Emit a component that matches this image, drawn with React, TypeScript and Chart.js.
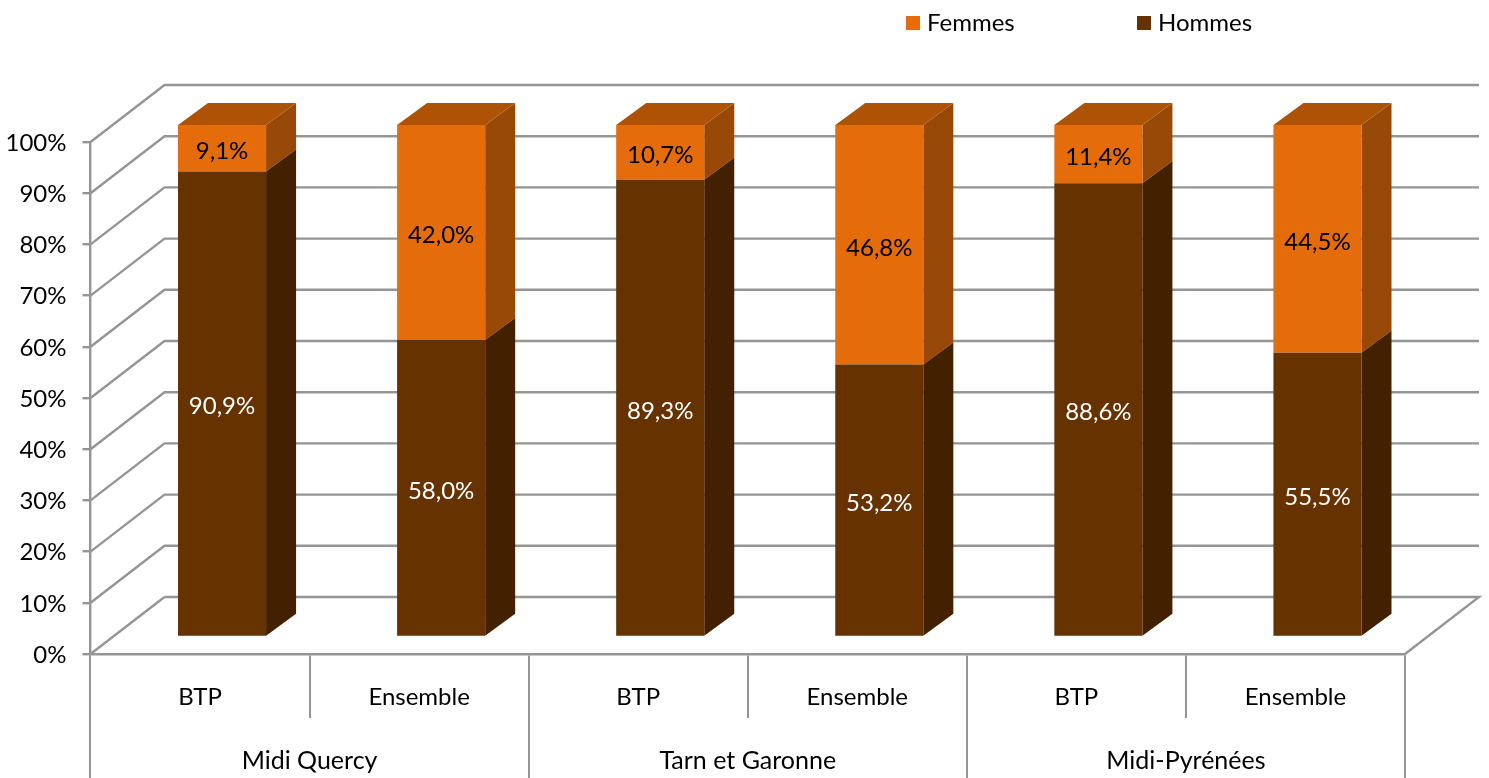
import React, { useEffect, useRef } from "react";
import { Chart, registerables } from "chart.js";

Chart.register(...registerables);

const subCategories = ["BTP", "Ensemble", "BTP", "Ensemble", "BTP", "Ensemble"];
const groups = ["Midi Quercy", "Tarn et Garonne", "Midi-Pyrénées"];
const hommes = [90.9, 58.0, 89.3, 53.2, 88.6, 55.5];
const femmes = [9.1, 42.0, 10.7, 46.8, 11.4, 44.5];
const yTicks = [0, 10, 20, 30, 40, 50, 60, 70, 80, 90, 100];

const FONT = "Lato, 'Open Sans', sans-serif";
const FONT_SIZE = 24;
const GRID = "#959595";
const GRID_W = 2.4;
const FRONT = { Hommes: "#663200", Femmes: "#E46C0A" } as Record<string, string>;
const SIDE = { Hommes: "#432000", Femmes: "#984807" } as Record<string, string>;
const TOP_FACE = "#AE5306";
const LABEL_COLOR = { Hommes: "#ffffff", Femmes: "#000000" } as Record<string, string>;

const WALL_DX = 74;
const WALL_DY = -57;
const BAR_SHIFT_X = 22;
const BAR_SHIFT_Y = -17;
const BAR_DX = 30;
const BAR_DY = -22;

const fmt = (v: number) => v.toFixed(1).replace(".", ",") + "%";

const poly = (ctx: CanvasRenderingContext2D, color: string, pts: number[][]) => {
  ctx.fillStyle = color;
  ctx.beginPath();
  pts.forEach(([x, y], i) => (i ? ctx.lineTo(x, y) : ctx.moveTo(x, y)));
  ctx.closePath();
  ctx.fill();
};

const walls = {
  id: "walls",
  beforeDatasetsDraw(chart: any) {
    const { ctx, chartArea: a, scales } = chart;
    ctx.save();
    ctx.strokeStyle = GRID;
    ctx.lineWidth = GRID_W;
    yTicks.forEach((t) => {
      const y = scales.y.getPixelForValue(t);
      ctx.beginPath();
      ctx.moveTo(a.left, y);
      ctx.lineTo(a.left + WALL_DX, y + WALL_DY);
      if (t > 0) ctx.lineTo(a.right + WALL_DX, y + WALL_DY);
      ctx.stroke();
    });
    const by = scales.y.getPixelForValue(0);
    ctx.beginPath();
    ctx.moveTo(a.left + WALL_DX, by + WALL_DY);
    ctx.lineTo(a.right + WALL_DX, by + WALL_DY);
    ctx.lineTo(a.right, by);
    ctx.stroke();
    ctx.restore();
  },
};

const bars3d = {
  id: "bars3d",
  beforeDatasetDraw(chart: any, args: any) {
    const { ctx } = chart;
    const name = chart.data.datasets[args.index].label;
    const isTop = args.index === chart.data.datasets.length - 1;
    ctx.save();
    ctx.translate(BAR_SHIFT_X, BAR_SHIFT_Y);
    args.meta.data.forEach((bar: any) => {
      const { x, y, base, width } = bar.getProps(["x", "y", "base", "width"], true);
      const r = x + width / 2;
      const l = x - width / 2;
      poly(ctx, SIDE[name], [
        [r, y],
        [r + BAR_DX, y + BAR_DY],
        [r + BAR_DX, base + BAR_DY],
        [r, base],
      ]);
      if (isTop) {
        poly(ctx, TOP_FACE, [
          [l, y],
          [l + BAR_DX, y + BAR_DY],
          [r + BAR_DX, y + BAR_DY],
          [r, y],
        ]);
      }
    });
  },
  afterDatasetDraw(chart: any) {
    chart.ctx.restore();
  },
  afterDatasetsDraw(chart: any) {
    const { ctx } = chart;
    ctx.save();
    ctx.font = `${FONT_SIZE}px ${FONT}`;
    ctx.textAlign = "center";
    ctx.textBaseline = "middle";
    chart.data.datasets.forEach((ds: any, i: number) => {
      ctx.fillStyle = LABEL_COLOR[ds.label];
      chart.getDatasetMeta(i).data.forEach((bar: any, j: number) => {
        const { x, y, base } = bar.getProps(["x", "y", "base"], true);
        ctx.fillText(fmt(ds.data[j]), x + BAR_SHIFT_X, (y + base) / 2 + BAR_SHIFT_Y + 3);
      });
    });
    ctx.restore();
  },
};

const topLegend = {
  id: "topLegend",
  afterDraw(chart: any) {
    const { ctx } = chart;
    const slots: Record<string, number> = { Femmes: 906, Hommes: 1137 };
    ctx.save();
    ctx.font = `${FONT_SIZE}px ${FONT}`;
    ctx.textAlign = "left";
    ctx.textBaseline = "middle";
    chart.data.datasets.forEach((ds: any) => {
      const x = slots[ds.label];
      ctx.fillStyle = FRONT[ds.label];
      ctx.fillRect(x, 16, 14, 14);
      ctx.fillStyle = "#000000";
      ctx.fillText(ds.label, x + 21, 23);
    });
    ctx.restore();
  },
};

export default function App() {
  const ref = useRef<HTMLCanvasElement>(null);
  useEffect(() => {
    const chart = new Chart(ref.current as HTMLCanvasElement, {
      type: "bar",
      data: {
        labels: subCategories,
        datasets: [
          { label: "Hommes", data: hommes, backgroundColor: FRONT.Hommes, stack: "s", xAxisID: "x" },
          { label: "Femmes", data: femmes, backgroundColor: FRONT.Femmes, stack: "s", xAxisID: "x" },
        ],
      },
      options: {
        animation: false,
        responsive: false,
        maintainAspectRatio: false,
        barPercentage: 0.402,
        categoryPercentage: 1,
        layout: { padding: { top: 142, right: 84, bottom: 0, left: 0 } },
        font: { family: FONT, size: FONT_SIZE },
        plugins: { legend: { display: false }, tooltip: { enabled: false }, title: { display: false } },
        scales: {
          y: {
            stacked: true,
            min: 0,
            max: 100,
            afterFit: (s: any) => {
              s.width = 90.5;
            },
            afterBuildTicks: (s: any) => {
              s.ticks = yTicks.map((value) => ({ value }));
            },
            border: { display: true, color: GRID, width: GRID_W },
            grid: { drawOnChartArea: false, drawTicks: true, tickLength: 8, color: GRID, lineWidth: GRID_W },
            ticks: {
              color: "#000000",
              padding: 16,
              labelOffset: 1,
              font: { family: FONT, size: FONT_SIZE },
              callback: (v: any) => `${v}%`,
            },
          },
          x: {
            stacked: true,
            position: "bottom",
            afterFit: (s: any) => {
              s.height = 64;
            },
            border: { display: true, color: GRID, width: GRID_W },
            grid: { drawOnChartArea: false, offset: true, tickLength: 64, color: GRID, lineWidth: 2 },
            ticks: {
              color: "#000000",
              padding: -35,
              maxRotation: 0,
              autoSkip: false,
              font: { family: FONT, size: FONT_SIZE },
            },
          },
          x2: {
            type: "category",
            labels: groups,
            position: "bottom",
            afterFit: (s: any) => {
              s.height = 60;
            },
            border: { display: false },
            grid: { drawOnChartArea: false, offset: true, tickLength: 60, color: GRID, lineWidth: 2 },
            ticks: {
              color: "#000000",
              padding: -32,
              maxRotation: 0,
              autoSkip: false,
              font: { family: FONT, size: 25 },
            },
          },
        },
      } as any,
      plugins: [walls, bars3d, topLegend],
    });
    return () => chart.destroy();
  }, []);
  return (
    <canvas
      ref={ref}
      width={1489}
      height={778}
      style={{ position: "absolute", left: 0, top: 0, width: 1489, height: 778 }}
    />
  );
}
